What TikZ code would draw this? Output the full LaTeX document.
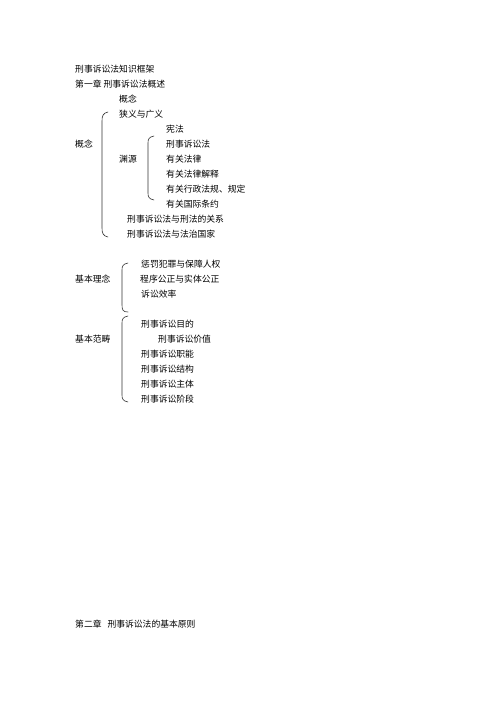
\documentclass[tikz,border=0pt]{standalone}
\usepackage{fontspec}
\setmainfont{Noto Sans CJK SC}
\begin{document}
\begin{tikzpicture}[x=1pt,y=-1pt,
  t/.style={anchor=west,inner sep=0pt,font=\fontsize{8.8}{10}\selectfont,text=black},
  br/.style={draw=black!80,line width=0.6pt,line cap=round}]
\useasboundingbox (0,0) rectangle (496,702);
\node[t] (title) at (75,69) {刑事诉讼法知识框架};
\node[t] (ch1) at (75,84) {第一章\ 刑事诉讼法概述};
\node[t] (gn1) at (119,99) {概念};
\node[t] (xy) at (119,114) {狭义与广义};
\node[t] (xf) at (166,129) {宪法};
\node[t] (gn) at (75,144) {概念};
\node[t] (xs) at (166,144) {刑事诉讼法};
\node[t] (yy) at (119,159) {渊源};
\node[t] (fl) at (166,159) {有关法律};
\node[t] (js) at (166,174) {有关法律解释};
\node[t] (xz) at (166,189) {有关行政法规、规定};
\node[t] (gj) at (166,204) {有关国际条约};
\node[t] (gx) at (127,219) {刑事诉讼法与刑法的关系};
\node[t] (fz) at (127,234) {刑事诉讼法与法治国家};
\node[t] (cf) at (141,264) {惩罚犯罪与保障人权};
\node[t] (jl) at (75,279) {基本理念};
\node[t] (cx) at (140,279) {程序公正与实体公正};
\node[t] (xl) at (141,294) {诉讼效率};
\node[t] (md) at (141,324) {刑事诉讼目的};
\node[t] (fc) at (75,339) {基本范畴};
\node[t] (jz) at (158,339) {刑事诉讼价值};
\node[t] (zn) at (141,354) {刑事诉讼职能};
\node[t] (jg) at (141,369) {刑事诉讼结构};
\node[t] (zt) at (141,384) {刑事诉讼主体};
\node[t] (jd) at (141,399) {刑事诉讼阶段};
\node[t] (ch2) at (75,624) {第二章\ \ \ 刑事诉讼法的基本原则};
% braces
\draw[br] (108,112) .. controls (103,113) and (102,116) .. (102,121) -- (102,228) .. controls (102,233) and (103,236) .. (108,237);
\draw[br] (154,136) .. controls (149,137) and (148,139) .. (148,143) -- (148,193) .. controls (148,197) and (149,199) .. (154,200);
\draw[br] (128,263) .. controls (123,264) and (122,266) .. (122,270) -- (122,305) .. controls (122,310) and (123,312) .. (128,312);
\draw[br] (128,316) .. controls (123,317) and (122,319) .. (122,323) -- (122,395) .. controls (122,399) and (123,401) .. (128,402);
\end{tikzpicture}
\end{document}
